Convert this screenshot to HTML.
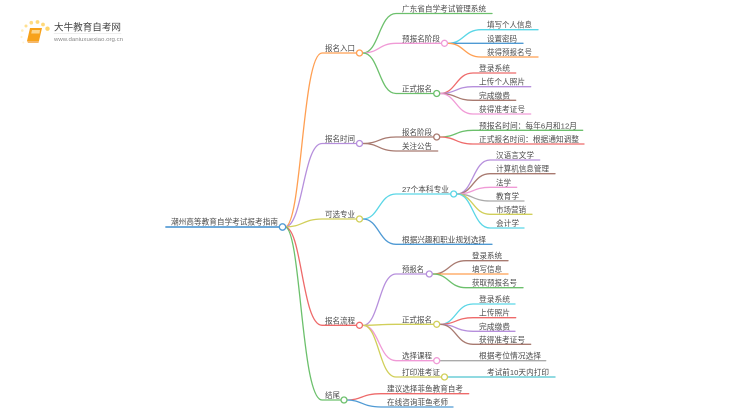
<!DOCTYPE html>
<html lang="zh">
<head>
<meta charset="utf-8">
<title>潮州高等教育自学考试报考指南</title>
<style>
html,body{margin:0;padding:0;background:#fff;width:750px;height:410px;overflow:hidden}
svg{display:block;filter:blur(.35px)}
text{font-family:"Liberation Sans","Noto Sans CJK SC",sans-serif;font-size:7.7px;fill:#4a4a4a}
path{fill:none;stroke-width:1.3;stroke-linecap:round}
circle{fill:#fff;stroke-width:1.3}
.o{stroke:#ff9f52}.p{stroke:#b68fdc}.y{stroke:#d1cf5a}.r{stroke:#ee6a6a}.g{stroke:#6cc06c}
.c{stroke:#5ad6e6}.b{stroke:#4f9ad4}.w{stroke:#a87a70}.k{stroke:#f09ad6}.a{stroke:#aaaaaa}
</style>
</head>
<body>
<svg width="750" height="410" viewBox="0 0 750 410" xmlns="http://www.w3.org/2000/svg">
<!-- logo -->
<g>
<circle cx="26" cy="26" r="1.5" style="fill:#ffe08f;stroke:none"/>
<circle cx="31.3" cy="22.7" r="1.8" style="fill:#ffdc85;stroke:none"/>
<circle cx="37.5" cy="22" r="1.9" style="fill:#ffd97a;stroke:none"/>
<circle cx="43" cy="24.5" r="1.9" style="fill:#ffd97a;stroke:none"/>
<circle cx="47.5" cy="28.7" r="2.2" style="fill:#ffd56c;stroke:none"/>
<circle cx="22.3" cy="30.5" r="1.3" style="fill:#ffeebb;stroke:none"/>
<circle cx="21.5" cy="37" r="1.1" style="fill:#fff2cc;stroke:none"/>
<circle cx="23.3" cy="42.5" r="1" style="fill:#fff4d8;stroke:none"/>
</g>
<polygon points="30,28 42,28 39,41 27,41" fill="#f7a21b"/>
<polygon points="27,41 39,41 38.5,43 28,43" fill="#f6b868"/>
<polygon points="32,30 40,30 39.5,33.5 31.2,33.5" fill="#fbd58c"/>
<text x="54" y="30.5" textLength="67" lengthAdjust="spacingAndGlyphs" style="font-size:9.6px;fill:#444">大牛教育自考网</text>
<path d="M54 33.5H121" style="stroke:#ddd;stroke-width:.6"/>
<text x="54" y="41" textLength="69" lengthAdjust="spacingAndGlyphs" style="font-size:5.6px;fill:#888">www.daniuxuexiao.org.cn</text>

<!-- root -->
<path class="b" d="M166 227H282" style="stroke-width:1.8;stroke:#5a9fd6"/>
<!-- level 1 links -->
<path class="o" d="M285 227C302 227 302 53 322 53H357"/>
<path class="p" d="M285 227C303 227 303 143.5 322 143.5H357"/>
<path class="y" d="M285 227C303 227 303 219 322 219H357"/>
<path class="r" d="M285 227C302 227 302 325.3 322 325.3H357"/>
<path class="g" d="M285 227C301 227 301 400 322 400H342"/>

<!-- 报名入口 -->
<path class="g" d="M363 53C379 53 379 13.5 396 13.5H492"/>
<path class="k" d="M363 53C379 53 379 43.3 396 43.3H442"/>
<path class="g" d="M363 53C379 53 379 93.5 396 93.5H434"/>
<path class="c" d="M448 43.3C464 43.3 464 29.7 481 29.7H538"/>
<path class="b" d="M448 43.3C464 43.3 464 43.3 481 43.3H523"/>
<path class="o" d="M448 43.3C464 43.3 464 57 481 57H538"/>
<path class="r" d="M440 93.5C456 93.5 456 73 473 73H515.7"/>
<path class="p" d="M440 93.5C456 93.5 456 86.7 473 86.7H530.7"/>
<path class="w" d="M440 93.5C456 93.5 456 100.3 473 100.3H515.7"/>
<path class="k" d="M440 93.5C456 93.5 456 114 473 114H530.7"/>

<!-- 报名时间 -->
<path class="w" d="M363 143.5C379 143.5 379 137 396 137H434"/>
<path class="w" d="M363 143.5C379 143.5 379 151 396 151H437.7"/>
<path class="g" d="M440 137C456 137 456 130.3 473 130.3H582.7"/>
<path class="r" d="M440 137C456 137 456 144 473 144H584"/>

<!-- 可选专业 -->
<path class="c" d="M363 219C379 219 379 194 396 194H451"/>
<path class="b" d="M363 219C379 219 379 244.3 396 244.3H492"/>
<path class="p" d="M457 194C473 194 473 160 490 160H539.7"/>
<path class="w" d="M457 194C473 194 473 173.7 490 173.7H555"/>
<path class="k" d="M457 194C473 194 473 187.3 490 187.3H516.7"/>
<path class="a" d="M457 194C473 194 473 201 490 201H524"/>
<path class="y" d="M457 194C473 194 473 214.3 490 214.3H532"/>
<path class="c" d="M457 194C473 194 473 228 490 228H524"/>

<!-- 报名流程 -->
<path class="p" d="M363 325.3C379 325.3 379 274 396 274H427"/>
<path class="y" d="M363 325.3C379 325.3 379 324.3 396 324.3H434"/>
<path class="k" d="M363 325.3C379 325.3 379 360.7 396 360.7H434"/>
<path class="y" d="M363 325.3C379 325.3 379 377 396 377H442"/>
<path class="w" d="M433 274C449 274 449 260.7 466 260.7H508"/>
<path class="o" d="M433 274C449 274 449 274 466 274H508"/>
<path class="g" d="M433 274C449 274 449 287.7 466 287.7H523"/>
<path class="c" d="M440 324.3C456 324.3 456 304 473 304H515"/>
<path class="r" d="M440 324.3C456 324.3 456 317.7 473 317.7H515.7"/>
<path class="p" d="M440 324.3C456 324.3 456 331.3 473 331.3H515"/>
<path class="w" d="M440 324.3C456 324.3 456 344.3 473 344.3H530.7"/>
<path class="a" d="M440 360.7H545.7"/>
<path d="M448 377H555" style="stroke:#4fc4cf"/>

<!-- 结尾 -->
<path class="r" d="M347 400C362 400 362 393.7 381 393.7H468.7"/>
<path class="b" d="M347 400C362 400 362 407 381 407H453"/>

<!-- circles -->
<circle class="b" cx="282.5" cy="227" r="3.2"/>
<circle class="o" cx="359.5" cy="53" r="3"/>
<circle class="p" cx="359.5" cy="143.5" r="3"/>
<circle class="y" cx="359.5" cy="219" r="3"/>
<circle class="r" cx="359.5" cy="325.3" r="3"/>
<circle class="g" cx="344" cy="400" r="3"/>
<circle class="k" cx="444.5" cy="43.3" r="3"/>
<circle class="g" cx="436.7" cy="93.5" r="3"/>
<circle class="w" cx="436.7" cy="137" r="3"/>
<circle class="c" cx="453.7" cy="194" r="3"/>
<circle class="p" cx="429.3" cy="274" r="3"/>
<circle class="y" cx="436.7" cy="324.3" r="3"/>
<circle class="k" cx="436.7" cy="360.7" r="3"/>
<circle class="y" cx="444.5" cy="377" r="3"/>

<!-- labels -->
<text x="171" y="224.5" textLength="107" lengthAdjust="spacingAndGlyphs">潮州高等教育自学考试报考指南</text>
<text x="325" y="51" textLength="30" lengthAdjust="spacingAndGlyphs">报名入口</text>
<text x="325" y="141.5" textLength="30" lengthAdjust="spacingAndGlyphs">报名时间</text>
<text x="325" y="217" textLength="30" lengthAdjust="spacingAndGlyphs">可选专业</text>
<text x="325" y="323.3" textLength="30" lengthAdjust="spacingAndGlyphs">报名流程</text>
<text x="325" y="398" textLength="15" lengthAdjust="spacingAndGlyphs">结尾</text>

<text x="402" y="11.5" textLength="84" lengthAdjust="spacingAndGlyphs">广东省自学考试管理系统</text>
<text x="402" y="41.3" textLength="38" lengthAdjust="spacingAndGlyphs">预报名阶段</text>
<text x="402" y="91.5" textLength="30" lengthAdjust="spacingAndGlyphs">正式报名</text>
<text x="487" y="27.7" textLength="45" lengthAdjust="spacingAndGlyphs">填写个人信息</text>
<text x="487" y="41.3" textLength="30" lengthAdjust="spacingAndGlyphs">设置密码</text>
<text x="487" y="55" textLength="45" lengthAdjust="spacingAndGlyphs">获得预报名号</text>
<text x="479" y="71" textLength="31" lengthAdjust="spacingAndGlyphs">登录系统</text>
<text x="479" y="84.7" textLength="46" lengthAdjust="spacingAndGlyphs">上传个人照片</text>
<text x="479" y="98.3" textLength="31" lengthAdjust="spacingAndGlyphs">完成缴费</text>
<text x="479" y="112" textLength="46" lengthAdjust="spacingAndGlyphs">获得准考证号</text>

<text x="402" y="135" textLength="30" lengthAdjust="spacingAndGlyphs">报名阶段</text>
<text x="402" y="149" textLength="30" lengthAdjust="spacingAndGlyphs">关注公告</text>
<text x="479" y="128.3" textLength="98" lengthAdjust="spacingAndGlyphs">预报名时间：每年6月和12月</text>
<text x="479" y="142" textLength="100" lengthAdjust="spacingAndGlyphs">正式报名时间：根据通知调整</text>

<text x="402" y="192" textLength="47" lengthAdjust="spacingAndGlyphs">27个本科专业</text>
<text x="402" y="242.3" textLength="84" lengthAdjust="spacingAndGlyphs">根据兴趣和职业规划选择</text>
<text x="496" y="158" textLength="38" lengthAdjust="spacingAndGlyphs">汉语言文学</text>
<text x="496" y="171.7" textLength="53" lengthAdjust="spacingAndGlyphs">计算机信息管理</text>
<text x="496" y="185.3" textLength="15" lengthAdjust="spacingAndGlyphs">法学</text>
<text x="496" y="199" textLength="23" lengthAdjust="spacingAndGlyphs">教育学</text>
<text x="496" y="212.3" textLength="30" lengthAdjust="spacingAndGlyphs">市场营销</text>
<text x="496" y="226" textLength="23" lengthAdjust="spacingAndGlyphs">会计学</text>

<text x="402" y="272" textLength="22" lengthAdjust="spacingAndGlyphs">预报名</text>
<text x="402" y="322.3" textLength="30" lengthAdjust="spacingAndGlyphs">正式报名</text>
<text x="402" y="358.7" textLength="30" lengthAdjust="spacingAndGlyphs">选择课程</text>
<text x="402" y="375" textLength="38" lengthAdjust="spacingAndGlyphs">打印准考证</text>
<text x="472" y="258.7" textLength="30" lengthAdjust="spacingAndGlyphs">登录系统</text>
<text x="472" y="272" textLength="30" lengthAdjust="spacingAndGlyphs">填写信息</text>
<text x="472" y="285.7" textLength="45" lengthAdjust="spacingAndGlyphs">获取预报名号</text>
<text x="479" y="302" textLength="31" lengthAdjust="spacingAndGlyphs">登录系统</text>
<text x="479" y="315.7" textLength="31" lengthAdjust="spacingAndGlyphs">上传照片</text>
<text x="479" y="329.3" textLength="31" lengthAdjust="spacingAndGlyphs">完成缴费</text>
<text x="479" y="342.3" textLength="46" lengthAdjust="spacingAndGlyphs">获得准考证号</text>
<text x="479" y="358.7" textLength="62" lengthAdjust="spacingAndGlyphs">根据考位情况选择</text>
<text x="487" y="375" textLength="62" lengthAdjust="spacingAndGlyphs">考试前10天内打印</text>

<text x="387" y="391.7" textLength="76" lengthAdjust="spacingAndGlyphs">建议选择菲鱼教育自考</text>
<text x="387" y="405" textLength="61" lengthAdjust="spacingAndGlyphs">在线咨询菲鱼老师</text>
</svg>
</body>
</html>
